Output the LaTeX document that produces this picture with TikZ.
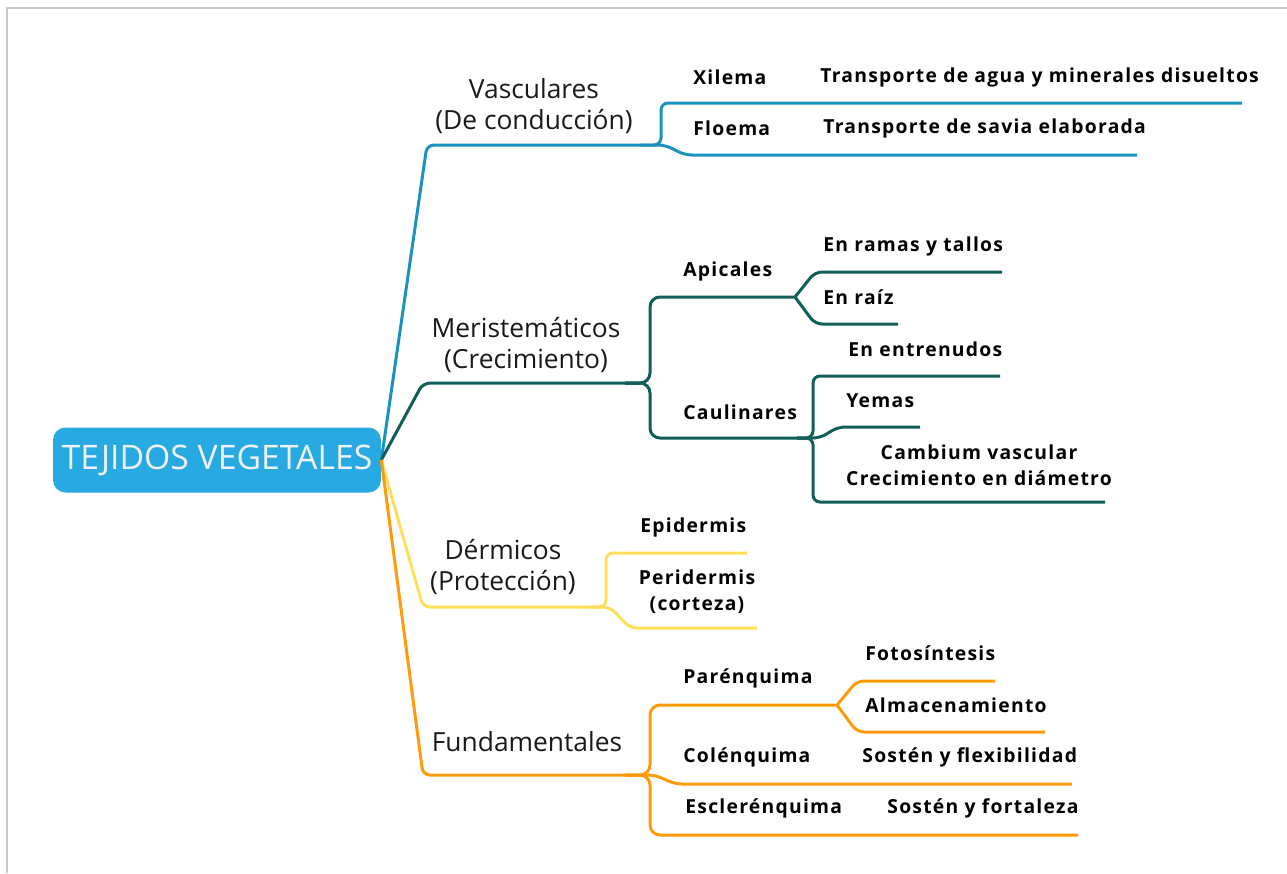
\documentclass[tikz,border=0pt]{standalone}
\usepackage{fontspec}
\setmainfont{Open Sans}
\newfontfamily\hojafont[LetterSpace=6.5]{Open Sans}
\usetikzlibrary{positioning}
\definecolor{RaizAzul}{HTML}{27AAE1}
\definecolor{VascAzul}{HTML}{1A92BE}
\definecolor{MeriVerde}{HTML}{0F5E57}
\definecolor{DermAmarillo}{HTML}{FFDE59}
\definecolor{FundNaranja}{HTML}{FF9A0A}
\definecolor{MarcoGris}{HTML}{C8C8C8}

\begin{document}
\begin{tikzpicture}[x=0.02cm, y=-0.02cm,
    raiz/.style={fill=RaizAzul, rounded corners=0.25cm, minimum width=6.56cm, minimum height=1.3cm, text=white!94!black, font=\fontsize{19.2}{23}\selectfont},
    rama/.style={font=\fontsize{15}{17.6}\selectfont, align=center, text=black!90},
    hoja/.style={font=\hojafont\bfseries\fontsize{11}{14.7}\selectfont, anchor=west, inner sep=0pt},
    hojados/.style={hoja, anchor=center, align=center},
    linea/.style={line width=1.7pt, draw=#1, rounded corners=0.14cm},
    curva/.style={linea=#1, rounded corners=0.2cm}]
    \useasboundingbox (0,0) rectangle (1287,873);
    % Marco
    \draw[MarcoGris, line width=1.1pt] (7,873) -- (7,8) -- (1287,8);

    % Raiz
    \node[raiz] (raiz) at (217,460) {TEJIDOS VEGETALES};

    % Ramas
    \node[rama] (vasc) at (534,106) {Vasculares\\(De conducción)};
    \node[rama] (meri) at (526,345) {Meristemáticos\\(Crecimiento)};
    \node[rama] (derm) at (503,567) {Dérmicos\\(Protección)};
    \node[rama] (fund) at (527,742) {Fundamentales};

    % Hojas
    \node[hoja] (xil) at (693,77) {Xilema};
    \node[hoja] (xil-d) at (820,77) {Transporte de agua y minerales disueltos};
    \node[hoja] (flo) at (693,128) {Floema};
    \node[hoja] (flo-d) at (823,128) {Transporte de savia elaborada};
    \node[hoja] (apic) at (683,271) {Apicales};
    \node[hoja] (ramas) at (823,246) {En ramas y tallos};
    \node[hoja] (rz) at (823,297) {En raíz};
    \node[hoja] (caul) at (683,412) {Caulinares};
    \node[hoja] (entre) at (848,349) {En entrenudos};
    \node[hoja] (yemas) at (846,401) {Yemas};
    \node[hojados] (camb) at (979,465) {Cambium vascular\\Crecimiento en diámetro};
    \node[hoja] (epi) at (640,527) {Epidermis};
    \node[hojados] (peri) at (697,592) {Peridermis\\(corteza)};
    \node[hoja] (paren) at (683,678) {Parénquima};
    \node[hoja] (foto) at (865,653) {Fotosíntesis};
    \node[hoja] (alma) at (865,705) {Almacenamiento};
    \node[hoja] (colen) at (683,757) {Colénquima};
    \node[hoja] (colen-d) at (862,757) {Sostén y flexibilidad};
    \node[hoja] (escl) at (685,808) {Esclerénquima};
    \node[hoja] (escl-d) at (887,808) {Sostén y fortaleza};

    % Puntos de union
    \coordinate (vasc-j) at (652,145);
    \coordinate (meri-j) at (640,383);
    \coordinate (apic-j) at (795,297);
    \coordinate (caul-j) at (807,438);
    \coordinate (derm-j) at (600,607);
    \coordinate (fund-j) at (640,775);
    \coordinate (paren-j) at (837,705);

    % Vasculares
    \draw[linea=VascAzul] (raiz.east) -- (427,145) -- (vasc-j);
    \draw[linea=VascAzul] (640,145) -| (661,103) -- (1242,103);
    \draw[linea=VascAzul] (vasc-j) -- (665,145) -- (685,155) -- (1137,155);

    % Meristematicos
    \draw[linea=MeriVerde] (raiz.east) -- (423,383) -- (meri-j);
    \draw[curva=MeriVerde] (625,383) -| (650,297) -- (apic-j);
    \draw[curva=MeriVerde] (625,383) -| (650,438) -- (caul-j);
    \draw[linea=MeriVerde] (apic-j) -- (815,272) -- (1002,272);
    \draw[linea=MeriVerde] (apic-j) -- (815,324) -- (898,324);
    \draw[linea=MeriVerde] (797,438) -| (813,376) -- (1000,376);
    \draw[linea=MeriVerde] (caul-j) -- (820,438) -- (838,427) -- (920,427);
    \draw[linea=MeriVerde] (797,438) -| (813,502) -- (1105,502);

    % Dermicos
    \draw[linea=DermAmarillo] (raiz.east) -- (423,607) -- (derm-j);
    \draw[linea=DermAmarillo] (588,607) -| (606,553) -- (747,553);
    \draw[linea=DermAmarillo] (derm-j) -- (610,607) -- (630,628) -- (757,628);

    % Fundamentales
    \draw[linea=FundNaranja] (raiz.east) -- (423,775) -- (fund-j);
    \draw[curva=FundNaranja] (625,775) -| (650,705) -- (paren-j);
    \draw[curva=FundNaranja] (625,775) -| (650,835) -- (1078,835);
    \draw[linea=FundNaranja] (paren-j) -- (857,681) -- (995,681);
    \draw[linea=FundNaranja] (paren-j) -- (857,732) -- (1045,732);
    \draw[linea=FundNaranja] (fund-j) -- (655,775) -- (675,784) -- (1072,784);
\end{tikzpicture}
\end{document}
